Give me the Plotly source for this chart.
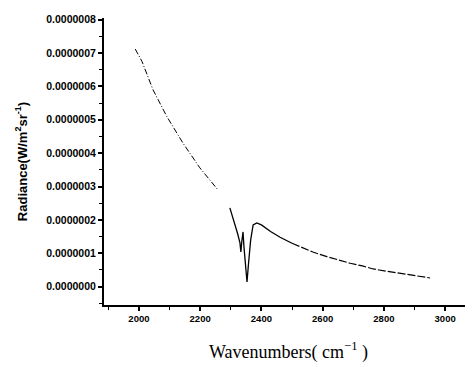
import plotly.graph_objects as go

# Data
wn_a = [1988, 2010, 2046, 2091, 2144, 2199, 2258]
rad_a = [7.12e-7, 6.75e-7, 5.9e-7, 5.1e-7, 4.3e-7, 3.56e-7, 2.9e-7]

wn_b = [2297, 2310, 2322, 2330, 2333, 2336, 2340, 2343, 2348, 2353, 2358, 2365, 2373, 2385, 2400, 2430, 2461, 2500]
rad_b = [2.36e-7, 2.0e-7, 1.6e-7, 1.31e-7, 1.04e-7, 1.35e-7, 1.64e-7, 1.2e-7, 0.55e-7, 0.14e-7, 0.7e-7, 1.4e-7, 1.85e-7, 1.91e-7, 1.85e-7, 1.65e-7, 1.48e-7, 1.3e-7]

wn_c = [2500, 2526, 2570, 2614, 2650, 2690, 2730, 2765, 2810, 2853, 2900, 2951]
rad_c = [1.3e-7, 1.2e-7, 1.03e-7, 0.9e-7, 0.8e-7, 0.7e-7, 0.62e-7, 0.53e-7, 0.46e-7, 0.4e-7, 0.33e-7, 0.26e-7]

x_ticks = [2000, 2200, 2400, 2600, 2800, 3000]
y_ticks = [0.0, 1e-7, 2e-7, 3e-7, 4e-7, 5e-7, 6e-7, 7e-7, 8e-7]

fig = go.Figure()
fig.add_trace(go.Scatter(x=wn_a, y=rad_a, mode="lines",
                         line=dict(color="black", width=1, dash="6px,2px,1px,2px")))
fig.add_trace(go.Scatter(x=wn_b, y=rad_b, mode="lines",
                         line=dict(color="black", width=1.3)))
fig.add_trace(go.Scatter(x=wn_c, y=rad_c, mode="lines",
                         line=dict(color="black", width=1.2, dash="8px,2px")))

fig.update_layout(
    width=465, height=359,
    margin=dict(l=96, r=0, t=10, b=62),
    plot_bgcolor="white", paper_bgcolor="white",
    showlegend=False,
    font=dict(family="Arial, Liberation Sans", color="black"),
)
fig.update_xaxes(
    range=[1886, 3091], tickvals=x_ticks, ticktext=[f"<b>{v}</b>" for v in x_ticks],
    tickfont=dict(size=9.5, family="Arial, Liberation Sans"),
    ticks="outside", ticklen=4, tickwidth=1.5, tickcolor="black",
    minor=dict(dtick=100, tick0=2000, ticks="outside", ticklen=3, tickwidth=1.2, tickcolor="black"),
    showline=True, linecolor="black", linewidth=1.8, showgrid=False, zeroline=False,
    automargin=False,
    title=dict(text="Wavenumbers( cm<sup>−1</sup> )", standoff=22,
               font=dict(family="Times New Roman, Liberation Serif, DejaVu Serif", size=18)),
)
fig.update_yaxes(
    range=[-0.55e-7, 8.05e-7], tickvals=y_ticks,
    ticktext=[f"<b>{v:.7f}</b>" for v in y_ticks],
    tickfont=dict(size=10.5, family="Arial, Liberation Sans"),
    ticks="outside", ticklen=4, tickwidth=1.5, tickcolor="black",
    minor=dict(dtick=0.5e-7, tick0=0, ticks="outside", ticklen=3, tickwidth=1.2, tickcolor="black"),
    showline=True, linecolor="black", linewidth=2, showgrid=False, zeroline=False,
    automargin=False,
    title=dict(text="<b>Radiance(W/m<sup>2</sup>sr<sup>-1</sup>)</b>", standoff=16,
               font=dict(family="Arial, Liberation Sans", size=13)),
)

fig.write_html("out.html")
